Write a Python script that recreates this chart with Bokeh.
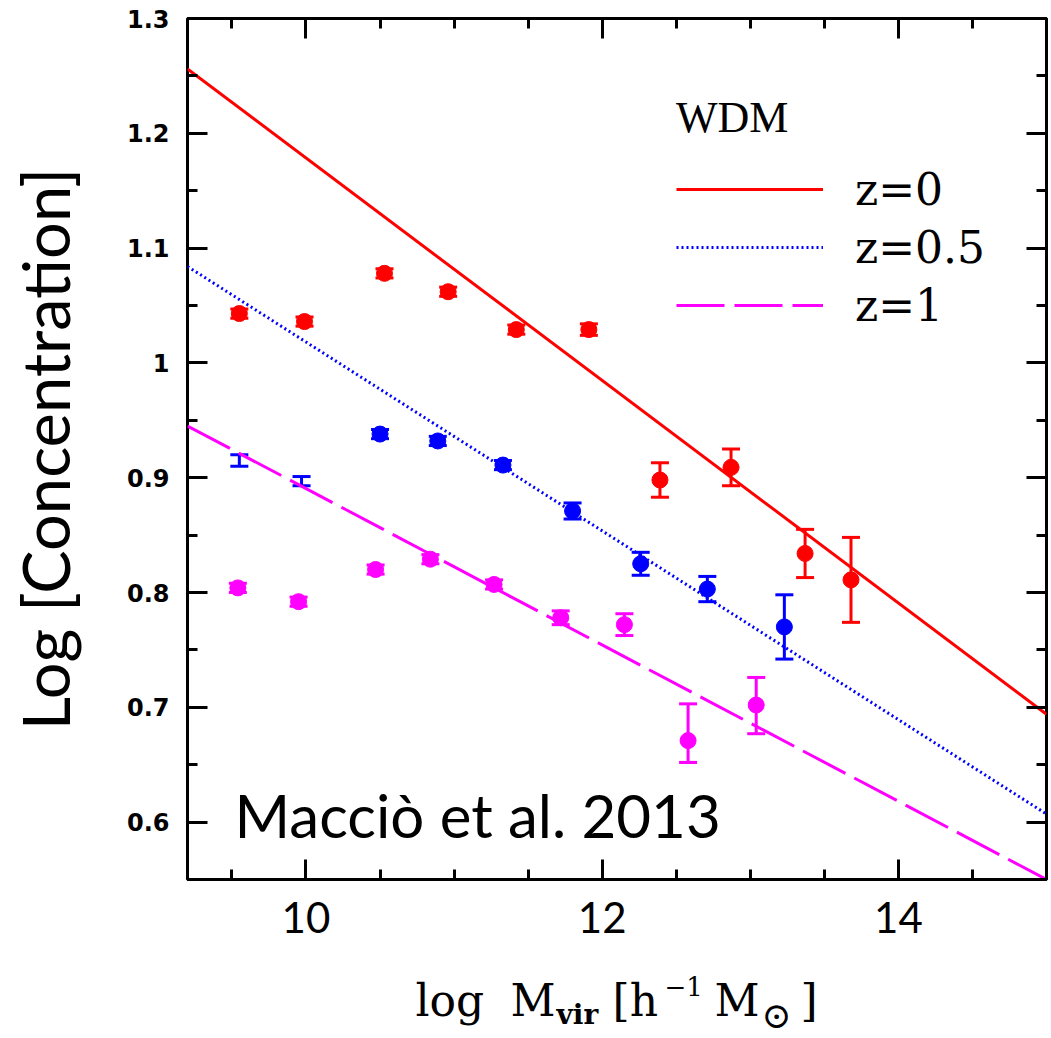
from bokeh.plotting import figure
from bokeh.layouts import column
from bokeh.models import (ColumnDataSource, Whisker, TeeHead, LinearAxis, Legend,
                          LegendItem, Label, SingleIntervalTicker, Range1d)
from bokeh.embed import file_html
from bokeh.resources import INLINE

# ---- data ----
red_x = [9.55, 9.99, 10.53, 10.96, 11.42, 11.91, 12.39, 12.87, 13.37, 13.68]
red_y = [1.043, 1.036, 1.078, 1.062, 1.029, 1.029, 0.898, 0.909, 0.834, 0.811]
red_err = [0.004, 0.004, 0.004, 0.004, 0.004, 0.005, 0.015, 0.016, 0.021, 0.037]

blue_x = [9.55, 9.97, 10.50, 10.89, 11.33, 11.80, 12.26, 12.71, 13.23]
blue_y = [0.915, 0.897, 0.938, 0.932, 0.911, 0.871, 0.825, 0.803, 0.770]
blue_err = [0.005, 0.004, 0.004, 0.004, 0.004, 0.007, 0.010, 0.011, 0.028]
blue_marker_from = 2  # first two bins show only error bars

mag_x = [9.54, 9.95, 10.47, 10.84, 11.27, 11.72, 12.15, 12.58, 13.04]
mag_y = [0.804, 0.792, 0.820, 0.829, 0.807, 0.778, 0.772, 0.671, 0.702]
mag_err_lo = [0.004, 0.004, 0.004, 0.004, 0.004, 0.006, 0.0095, 0.019, 0.025]
mag_err_hi = [0.004, 0.004, 0.004, 0.004, 0.004, 0.006, 0.0095, 0.032, 0.024]

fit_x = [9.2, 15.0]
fit_z0 = [1.256, 0.694]
fit_z05 = [1.084, 0.607]
fit_z1 = [0.945, 0.550]

labels = ["z=0", "z=0.5", "z=1"]

RED, BLUE, MAG = "#ff0000", "#0000ff", "#ff00ff"

W, H_MAIN, H_LAB = 1051, 960, 78
FL, FR, FB = 187, 1046, 879  # frame left / right / bottom in canvas px

p = figure(width=W, height=H_MAIN, x_range=(9.2, 15.0), y_range=(0.55, 1.3),
           output_backend="svg", toolbar_location=None,
           min_border_left=FL, min_border_right=W - FR, min_border_top=18,
           min_border_bottom=81, x_axis_location=None, y_axis_location=None)
p.background_fill_color = "white"
p.border_fill_color = "white"
p.outline_line_color = "black"
p.outline_line_width = 3
p.xgrid.visible = False
p.ygrid.visible = False

def style_axis(ax, show_labels):
    ax.axis_line_color = None
    ax.major_tick_in = 20
    ax.major_tick_out = 0
    ax.minor_tick_in = 10
    ax.minor_tick_out = 0
    ax.major_tick_line_width = 3
    ax.minor_tick_line_width = 3
    ax.major_tick_line_color = "black"
    ax.minor_tick_line_color = "black"
    if not show_labels:
        ax.major_label_text_font_size = "1px"
        ax.major_label_text_color = None
        ax.major_label_standoff = 0

bottom = LinearAxis(ticker=SingleIntervalTicker(interval=2, num_minor_ticks=4))
style_axis(bottom, True)
bottom.major_label_text_font = "Lato"
bottom.major_label_text_font_size = "42px"
bottom.major_label_text_color = "black"
bottom.major_label_standoff = 22
p.add_layout(bottom, "below")

top = LinearAxis(ticker=SingleIntervalTicker(interval=2, num_minor_ticks=4))
style_axis(top, False)
p.add_layout(top, "above")

left = LinearAxis(ticker=SingleIntervalTicker(interval=0.1, num_minor_ticks=2),
                  axis_label="Log [Concentration]")
style_axis(left, True)
left.major_label_text_font = "DejaVu Sans"
left.major_label_text_font_style = "bold"
left.major_label_text_font_size = "24px"
left.major_label_text_color = "black"
left.major_label_standoff = 18
left.major_label_overrides = {1.0: "1"}
left.axis_label_text_font = "Lato"
left.axis_label_text_font_style = "normal"
left.axis_label_text_font_size = "65px"
left.axis_label_text_color = "black"
left.axis_label_standoff = 40
p.add_layout(left, "left")

right = LinearAxis(ticker=SingleIntervalTicker(interval=0.1, num_minor_ticks=2))
style_axis(right, False)
p.add_layout(right, "right")

# fit lines
r0 = p.line(fit_x, fit_z0, line_color=RED, line_width=3)
r05 = p.line(fit_x, fit_z05, line_color=BLUE, line_width=3, line_dash="2 3")
r1 = p.line(fit_x, fit_z1, line_color=MAG, line_width=3, line_dash="48 10")

def add_series(xs, ys, lo, hi, color, marker_from=0):
    src = ColumnDataSource(dict(x=xs, lower=[y - e for y, e in zip(ys, lo)],
                                upper=[y + e for y, e in zip(ys, hi)]))
    w = Whisker(base="x", lower="lower", upper="upper", source=src,
                line_color=color, line_width=3,
                upper_head=TeeHead(size=18, line_color=color, line_width=3),
                lower_head=TeeHead(size=18, line_color=color, line_width=3))
    p.add_layout(w)
    p.scatter(xs[marker_from:], ys[marker_from:], size=16, color=color,
              marker="circle")

add_series(red_x, red_y, red_err, red_err, RED)
add_series(blue_x, blue_y, blue_err, blue_err, BLUE, blue_marker_from)
add_series(mag_x, mag_y, mag_err_lo, mag_err_hi, MAG)

legend = Legend(items=[LegendItem(label=labels[0], renderers=[r0]),
                       LegendItem(label=labels[1], renderers=[r05]),
                       LegendItem(label=labels[2], renderers=[r1])],
                location=(489, 545), title="WDM")
legend.background_fill_alpha = 0
legend.border_line_color = None
legend.padding = 0
legend.margin = 0
legend.spacing = 0
legend.glyph_width = 147
legend.glyph_height = 58
legend.label_height = 58
legend.label_standoff = 32
legend.label_text_font = "DejaVu Serif"
legend.label_text_font_size = "44px"
legend.label_text_color = "black"
legend.title_text_font = "Liberation Serif"
legend.title_text_font_size = "44px"
legend.title_text_font_style = "normal"
legend.title_text_color = "black"
legend.title_standoff = 17
p.add_layout(legend)

p.add_layout(Label(x=234 - FL, y=FB - 814, x_units="screen", y_units="screen",
                   text="Macciò et al. 2013", text_font="Lato",
                   text_font_size="60px", text_color="black",
                   text_baseline="alphabetic"))

# ---- strip below the plot holding the x-axis title: log M_vir [h^-1 M_sun] ----
q = figure(width=W, height=H_LAB, x_range=Range1d(FL, FR), y_range=Range1d(0, H_LAB),
           output_backend="svg", toolbar_location=None,
           min_border_left=FL, min_border_right=W - FR, min_border_top=0,
           min_border_bottom=0, x_axis_location=None, y_axis_location=None)
q.outline_line_color = None
q.xgrid.visible = False
q.ygrid.visible = False
q.background_fill_color = "white"
q.border_fill_color = "white"

SER = "DejaVu Serif"
TOP = H_MAIN  # canvas y of the strip's top edge
SHIFT = 18    # rendered baseline sits this much below the requested one
pieces = [
    (415, 1018, "log", "44px", "normal"),
    (510, 1018, "M", "44px", "normal"),
    (556, 1032, "vir", "28px", "bold"),
    (612, 1018, "[h", "44px", "normal"),
    (664, 1004, "\u22121", "26px", "normal"),
    (714, 1018, "M", "44px", "normal"),
    (761, 1033, "\u2299", "36px", "normal"),
    (800, 1018, "]", "44px", "normal"),
]
for (px, py, t, fs, st) in pieces:
    q.add_layout(Label(x=px, y=H_LAB - (py - SHIFT - TOP), text=t, text_font=SER,
                       text_font_size=fs, text_font_style=st,
                       text_color="black", text_baseline="alphabetic",
                       text_align="left"))

layout = column(p, q, spacing=0)
open("out.html", "w").write(file_html(layout, INLINE))
